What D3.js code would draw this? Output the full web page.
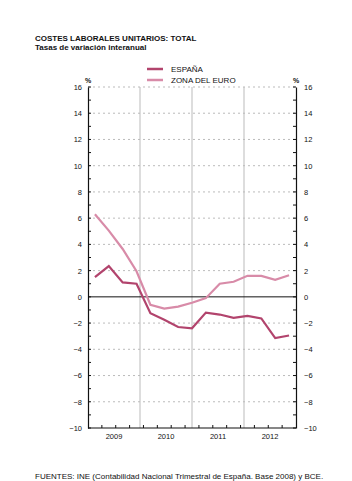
<!DOCTYPE html>
<html>
<head>
<meta charset="utf-8">
<script src="https://cdn.jsdelivr.net/npm/d3@7"></script>
<style>
  body { margin: 0; background: #fff; }
  svg text { font-family: "Liberation Sans", Arial, sans-serif; fill: #111; }
</style>
</head>
<body>
<div id="chart"></div>
<script>
// quarters 2009Q1 .. 2012Q3
var quarters = ["2009T1","2009T2","2009T3","2009T4","2010T1","2010T2","2010T3","2010T4",
                "2011T1","2011T2","2011T3","2011T4","2012T1","2012T2","2012T3"];
var years = ["2009", "2010", "2011", "2012"];
var espana = [1.5, 2.35, 1.1, 1.0, -1.25, -1.75, -2.3, -2.4, -1.2, -1.35, -1.6, -1.45, -1.65, -3.15, -2.95];
var zonaEuro = [6.3, 5.05, 3.65, 1.95, -0.6, -0.9, -0.75, -0.45, -0.1, 1.0, 1.15, 1.6, 1.6, 1.3, 1.65];
var yTicks = [-10, -8, -6, -4, -2, 0, 2, 4, 6, 8, 10, 12, 14, 16];

var W = 352, H = 481;
var margin = {top: 87, right: 56, bottom: 53, left: 88};
var width = W - margin.left - margin.right;
var height = H - margin.top - margin.bottom;

var svg = d3.select("#chart").append("svg")
    .attr("width", W)
    .attr("height", H);

// titles
svg.append("text").attr("x", 35).attr("y", 41)
    .attr("font-size", 8).attr("font-weight", "bold")
    .text("COSTES LABORALES UNITARIOS: TOTAL");
svg.append("text").attr("x", 35).attr("y", 50)
    .attr("font-size", 8).attr("font-weight", "bold")
    .text("Tasas de variación interanual");

// legend
var legend = [{name: "ESPAÑA", color: "#b2446d"}, {name: "ZONA DEL EURO", color: "#d88ba8"}];
legend.forEach(function (d, i) {
    var ly = 69 + i * 11;
    svg.append("line").attr("x1", 147).attr("x2", 163)
        .attr("y1", ly).attr("y2", ly)
        .attr("stroke", d.color).attr("stroke-width", 2.5);
    svg.append("text").attr("x", 171).attr("y", ly + 3)
        .attr("font-size", 8).text(d.name);
});

var g = svg.append("g")
    .attr("transform", "translate(" + margin.left + "," + margin.top + ")");

var x = d3.scaleBand().domain(quarters).range([0, width]);
var xYear = d3.scaleBand().domain(years).range([0, width]);
var y = d3.scaleLinear().domain([-10, 16]).range([height, 0]);

// horizontal dotted grid
g.append("g").selectAll("line")
    .data(yTicks.filter(function (d) { return d !== 0 && d !== -10; }))
    .enter().append("line")
    .attr("x1", 0).attr("x2", width)
    .attr("y1", function (d) { return y(d); })
    .attr("y2", function (d) { return y(d); })
    .attr("stroke", "#aaa").attr("stroke-width", 0.8)
    .attr("stroke-dasharray", "2,3");

// year separators
g.append("g").selectAll("line")
    .data(years.slice(1))
    .enter().append("line")
    .attr("x1", function (d) { return xYear(d); })
    .attr("x2", function (d) { return xYear(d); })
    .attr("y1", 0).attr("y2", height)
    .attr("stroke", "#bbb").attr("stroke-width", 1);

// zero line
g.append("line").attr("x1", 0).attr("x2", width)
    .attr("y1", y(0)).attr("y2", y(0))
    .attr("stroke", "#111").attr("stroke-width", 1);

// left axis
var minor = d3.range(-10, 17, 1);
var leftAxis = g.append("g")
    .call(d3.axisLeft(y).tickValues(yTicks).tickSize(0).tickPadding(6));
leftAxis.select(".domain").attr("stroke", "#111").attr("stroke-width", 1.2);
leftAxis.selectAll("text").attr("font-size", 7.5).attr("font-family", "Liberation Sans, Arial, sans-serif");
g.append("g").selectAll("line").data(minor).enter().append("line")
    .attr("x1", 0).attr("x2", 3)
    .attr("y1", function (d) { return y(d); }).attr("y2", function (d) { return y(d); })
    .attr("stroke", "#111").attr("stroke-width", 1);

// right axis
var rightAxis = g.append("g")
    .attr("transform", "translate(" + width + ",0)")
    .call(d3.axisRight(y).tickValues(yTicks).tickSize(0).tickPadding(8));
rightAxis.select(".domain").attr("stroke", "#111").attr("stroke-width", 1.2);
rightAxis.selectAll("text").attr("font-size", 7.5).attr("font-family", "Liberation Sans, Arial, sans-serif");
g.append("g").selectAll("line").data(minor).enter().append("line")
    .attr("x1", width - 3).attr("x2", width)
    .attr("y1", function (d) { return y(d); }).attr("y2", function (d) { return y(d); })
    .attr("stroke", "#111").attr("stroke-width", 1);

// % labels
g.append("text").attr("x", 0).attr("y", -4).attr("text-anchor", "middle")
    .attr("font-size", 7).attr("font-weight", "bold").text("%");
g.append("text").attr("x", width).attr("y", -4).attr("text-anchor", "middle")
    .attr("font-size", 7).attr("font-weight", "bold").text("%");

// bottom axis
g.append("line").attr("x1", 0).attr("x2", width)
    .attr("y1", height).attr("y2", height)
    .attr("stroke", "#111").attr("stroke-width", 1.2);
g.append("g").selectAll("line")
    .data(quarters.slice(1))
    .enter().append("line")
    .attr("x1", function (d) { return x(d); })
    .attr("x2", function (d) { return x(d); })
    .attr("y1", height).attr("y2", height - 3)
    .attr("stroke", "#111").attr("stroke-width", 1);
g.append("g").selectAll("text")
    .data(years)
    .enter().append("text")
    .attr("x", function (d) { return xYear(d) + xYear.bandwidth() / 2; })
    .attr("y", height + 11)
    .attr("text-anchor", "middle")
    .attr("font-size", 7.5)
    .text(function (d) { return d; });

// lines
var line = d3.line()
    .x(function (d, i) { return x(quarters[i]) + x.bandwidth() / 2; })
    .y(function (d) { return y(d); });

g.append("path").datum(zonaEuro)
    .attr("d", line).attr("fill", "none")
    .attr("stroke", "#d88ba8").attr("stroke-width", 2.2);
g.append("path").datum(espana)
    .attr("d", line).attr("fill", "none")
    .attr("stroke", "#b2446d").attr("stroke-width", 2.2);

// footer
svg.append("text").attr("x", 35).attr("y", 479)
    .attr("font-size", 8)
    .text("FUENTES: INE (Contabilidad Nacional Trimestral de España. Base 2008) y BCE.");
</script>
</body>
</html>
